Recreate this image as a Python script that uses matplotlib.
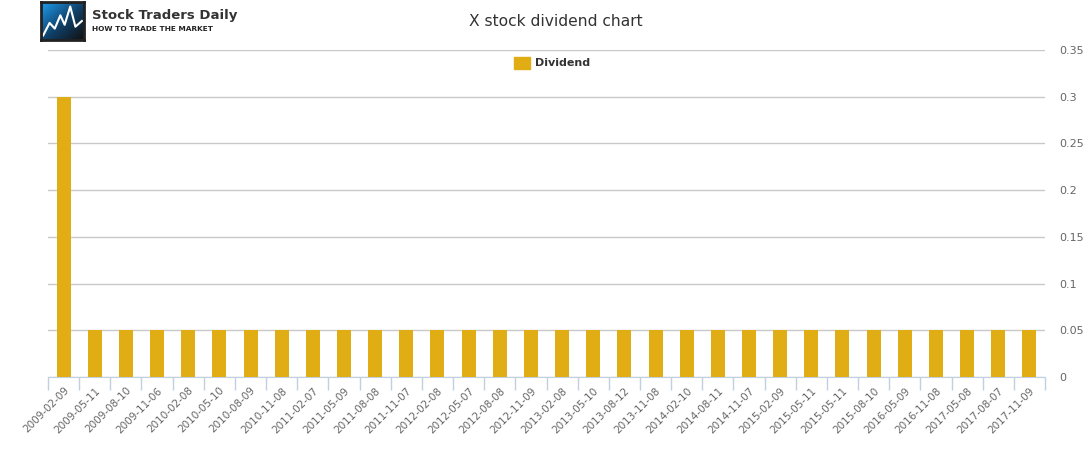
import numpy as np
import matplotlib.pyplot as plt
from matplotlib.colors import LinearSegmentedColormap
from matplotlib.patches import FancyBboxPatch

# data
dates = ['2009-02-09', '2009-05-11', '2009-08-10', '2009-11-06', '2010-02-08',
         '2010-05-10', '2010-08-09', '2010-11-08', '2011-02-07', '2011-05-09',
         '2011-08-08', '2011-11-07', '2012-02-08', '2012-05-07', '2012-08-08',
         '2012-11-09', '2013-02-08', '2013-05-10', '2013-08-12', '2013-11-08',
         '2014-02-10', '2014-08-11', '2014-11-07', '2015-02-09', '2015-05-11',
         '2015-05-11', '2015-08-10', '2016-05-09', '2016-11-08', '2017-05-08',
         '2017-08-07', '2017-11-09']
dividends = [0.3] + [0.05] * 31
y_ticks = [0, 0.05, 0.1, 0.15, 0.2, 0.25, 0.3, 0.35]

BAR_COLOR = '#e1ad15'
W, H = 1091, 450

fig = plt.figure(figsize=(W / 100, H / 100), dpi=100)
ax = fig.add_axes([48 / W, 1 - 377 / H, (1045 - 48) / W, (377 - 50) / H])

x = np.arange(len(dates))
ax.bar(x, dividends, width=0.45, color=BAR_COLOR, zorder=3)

ax.set_xlim(-0.5, len(dates) - 0.5)
ax.set_ylim(0, 0.35)
ax.set_yticks(y_ticks)
ax.set_yticklabels(['0', '0.05', '0.1', '0.15', '0.2', '0.25', '0.3', '0.35'])
ax.yaxis.tick_right()
ax.tick_params(axis='y', length=0, pad=10, labelsize=8, labelcolor='#666666')
ax.grid(axis='y', color='#c8c8c8', linewidth=1, zorder=0)

# category boundary ticks, labels at centres
ax.set_xticks(np.arange(len(dates) + 1) - 0.5)
ax.set_xticklabels([])
ax.set_xticks(x, minor=True)
ax.set_xticklabels(dates, minor=True, rotation=45, ha='right',
                   rotation_mode='anchor', fontsize=7.5, color='#666666')
ax.tick_params(axis='x', which='major', length=9, color='#c0d0e0', width=1)
ax.tick_params(axis='x', which='minor', length=0, pad=6)

for s in ['top', 'left', 'right']:
    ax.spines[s].set_visible(False)
ax.spines['bottom'].set_color('#c0d0e0')

fig.text(556 / W, 1 - 22 / H, 'X stock dividend chart', ha='center', va='center',
         fontsize=11.2, color='#333333')

# legend
fig.patches.append(plt.Rectangle((514 / W, 1 - 69 / H), 16 / W, 12 / H,
                                 transform=fig.transFigure, color=BAR_COLOR))
fig.text(535 / W, 1 - 63 / H, 'Dividend', ha='left', va='center', fontsize=8,
         fontweight='bold', color='#333333')

# logo
lax = fig.add_axes([41 / W, 1 - 40 / H, 43 / W, 38 / H])
logo_cmap = LinearSegmentedColormap.from_list('logo', ['#111111', '#0f3f66', '#1c8fdc'])
grad = np.linspace(0, 1, 64)
gx, gy = np.meshgrid(grad, grad)
lax.imshow((1 - gx) * 0.6 + gy * 0.6, cmap=logo_cmap, origin='lower',
           extent=(0, 1, 0, 1), aspect='auto', vmin=0, vmax=1.1)
lax.plot([0.05, 0.2, 0.32, 0.45, 0.55, 0.68, 0.8, 0.95],
         [0.12, 0.45, 0.3, 0.65, 0.4, 0.88, 0.35, 0.5], color='white', lw=1.5)
lax.set_xlim(0, 1)
lax.set_ylim(0, 1)
lax.set_xticks([])
lax.set_yticks([])
for s in lax.spines.values():
    s.set_color('#222222')
    s.set_linewidth(2)
fig.text(92 / W, 1 - 15 / H, 'Stock Traders Daily', ha='left', va='center',
         fontsize=9.5, fontweight='bold', color='#333333')
fig.text(92 / W, 1 - 29 / H, 'HOW TO TRADE THE MARKET', ha='left', va='center',
         fontsize=5.3, fontweight='bold', color='#222222')

fig.savefig('out.png', dpi=100)
